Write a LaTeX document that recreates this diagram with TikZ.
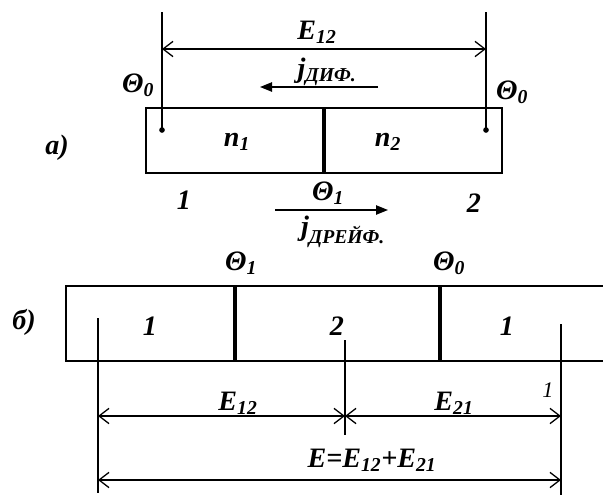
\documentclass[tikz,border=0pt]{standalone}
\usepackage{fontspec}
\setmainfont{Liberation Serif}
\usetikzlibrary{arrows.meta, positioning}

\begin{document}
\begin{tikzpicture}[
    x=0.03cm, y=-0.03cm,
    lbl/.style={font=\fontsize{24}{28}\selectfont\bfseries\itshape, inner sep=0pt},
    thinlbl/.style={font=\fontsize{19}{22}\selectfont\itshape, inner sep=0pt},
    boxline/.style={line width=2.4pt},
    wall/.style={line width=3.4pt},
    probe/.style={line width=1.2pt},
    dim/.style={{Straight Barb[length=3mm,width=4.6mm]}-{Straight Barb[length=3mm,width=4.6mm]}, line width=1.1pt},
    flow/.style={-{Triangle[length=3.6mm,width=2.8mm]}, line width=1.2pt}
]
    \useasboundingbox (0,0) rectangle (603,499);

    % a) two regions, common contact
    \draw[boxline] (146,108) rectangle (502,173);
    \draw[wall] (324,108) -- (324,173);
    \node[lbl] (a) at (57,148) {а)};
    \node[lbl] (n1) at (237,142) {n\textsubscript{1}};
    \node[lbl] (n2) at (388,142) {n\textsubscript{2}};
    \node[lbl] (th0l) at (138,85) {Θ\textsubscript{0}};
    \node[lbl] (th0r) at (512,92) {Θ\textsubscript{0}};
    \node[lbl] (th1a) at (328,193) {Θ\textsubscript{1}};
    \node[lbl] (one) at (184,200) {1};
    \node[lbl] (two) at (474,203) {2};

    % probes
    \coordinate (tL) at (162,12);
    \coordinate (pL) at (162,130);
    \coordinate (tR) at (486,12);
    \coordinate (pR) at (486,130);
    \draw[probe] (tL) -- (pL);
    \draw[probe] (tR) -- (pR);
    \fill (pL) circle (2.4pt);
    \fill (pR) circle (2.4pt);

    % E12
    \coordinate (dL) at (162,49);
    \coordinate (dR) at (486,49);
    \draw[dim] (dL) -- (dR);
    \node[lbl] (e12a) at (317,32) {E\textsubscript{12}};

    % currents
    \coordinate (jd1) at (378,87);
    \coordinate (jd0) at (260,87);
    \draw[flow] (jd1) -- (jd0);
    \node[lbl] (jdif) at (327,72) {j\textsubscript{ДИФ.}};
    \coordinate (jr0) at (275,210);
    \coordinate (jr1) at (388,210);
    \draw[flow] (jr0) -- (jr1);
    \node[lbl] (jdr) at (343,232) {j\textsubscript{ДРЕЙФ.}};

    % b) closed circuit 1-2-1
    \draw[boxline] (66,286) rectangle (620,361);
    \draw[wall] (235,286) -- (235,361);
    \draw[wall] (440,286) -- (440,361);
    \node[lbl] (b) at (24,322) {б)};
    \node[lbl] (th1b) at (241,263) {Θ\textsubscript{1}};
    \node[lbl] (th0b) at (449,263) {Θ\textsubscript{0}};
    \node[lbl] (c1) at (150,326) {1};
    \node[lbl] (c2) at (337,326) {2};
    \node[lbl] (c3) at (507,326) {1};

    \coordinate (vL0) at (98,318);
    \coordinate (vL1) at (98,493);
    \coordinate (vM0) at (345,340);
    \coordinate (vM1) at (345,435);
    \coordinate (vR0) at (561,324);
    \coordinate (vR1) at (561,495);
    \draw[probe] (vL0) -- (vL1);
    \draw[probe] (vM0) -- (vM1);
    \draw[probe] (vR0) -- (vR1);

    \coordinate (eL) at (98,416);
    \coordinate (eM) at (345,416);
    \coordinate (eR) at (561,416);
    \draw[dim] (eL) -- (eM);
    \draw[dim] (eM) -- (eR);
    \coordinate (sL) at (98,480);
    \coordinate (sR) at (561,480);
    \draw[dim] (sL) -- (sR);

    \node[lbl] (e12b) at (238,403) {E\textsubscript{12}};
    \node[lbl] (e21b) at (454,403) {E\textsubscript{21}};
    \node[thinlbl] (mark) at (548,390) {1};
    \node[lbl] (esum) at (372,460) {E=E\textsubscript{12}+E\textsubscript{21}};
\end{tikzpicture}
\end{document}
